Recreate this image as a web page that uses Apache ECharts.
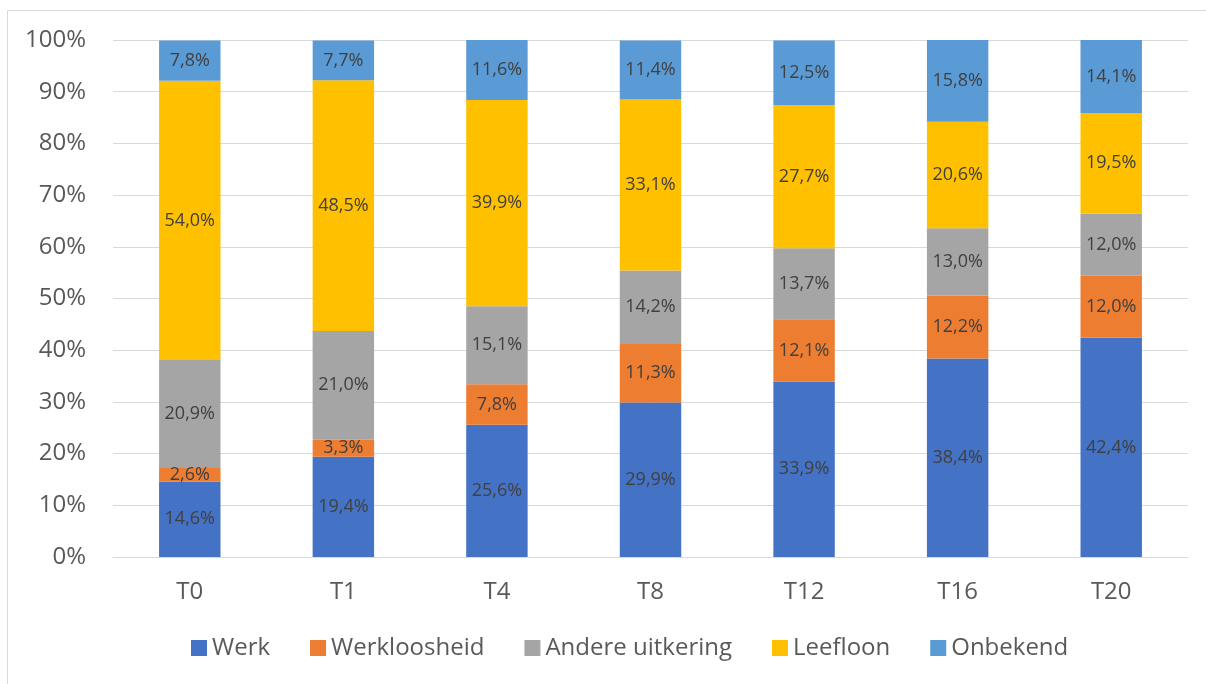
<!DOCTYPE html>
<html>
<head>
<meta charset="utf-8">
<script src="https://cdn.jsdelivr.net/npm/echarts@6/dist/echarts.min.js"></script>
<style>
  html, body { margin: 0; padding: 0; background: #fff; }
  #main { width: 1206px; height: 684px; }
</style>
</head>
<body>
<div id="main"></div>
<script>
const categories = ["T0", "T1", "T4", "T8", "T12", "T16", "T20"];
const werk = [14.6, 19.4, 25.6, 29.9, 33.9, 38.4, 42.4];
const werkloosheid = [2.6, 3.3, 7.8, 11.3, 12.1, 12.2, 12.0];
const andere = [20.9, 21.0, 15.1, 14.2, 13.7, 13.0, 12.0];
const leefloon = [54.0, 48.5, 39.9, 33.1, 27.7, 20.6, 19.5];
const onbekend = [7.8, 7.7, 11.6, 11.4, 12.5, 15.8, 14.1];
const yTicks = [0, 10, 20, 30, 40, 50, 60, 70, 80, 90, 100];

const font = "'Open Sans', 'Noto Sans', sans-serif";
const fmt = v => v.toFixed(1).replace(".", ",") + "%";

function mkSeries(name, data, color) {
  return {
    name: name,
    type: "bar",
    stack: "total",
    data: data,
    barWidth: "40%",
    itemStyle: { color: color },
    label: {
      show: true,
      position: "inside",
      formatter: p => fmt(p.value),
      color: "#404040",
      fontSize: 18,
      fontFamily: font
    }
  };
}

const myChart = echarts.init(document.getElementById("main"));
myChart.setOption({
  animation: false,
  graphic: [{
    type: "rect",
    shape: { x: 7.5, y: 10.5, width: 1210, height: 690 },
    style: { fill: "none", stroke: "#d9d9d9", lineWidth: 1 },
    silent: true
  }],
  grid: { left: 113, right: 18, top: 40, bottom: 127 },
  legend: {
    top: 631,
    left: 186,
    itemWidth: 16,
    itemHeight: 16,
    itemGap: 40,
    icon: "rect",
    textStyle: { color: "#595959", fontSize: 24, fontFamily: font }
  },
  xAxis: {
    type: "category",
    data: categories,
    axisLine: { lineStyle: { color: "#d9d9d9", width: 1 } },
    axisTick: { show: false },
    axisLabel: { color: "#595959", fontSize: 24, fontFamily: font, margin: 23 }
  },
  yAxis: {
    type: "value",
    min: 0,
    max: 100,
    interval: 10,
    axisLine: { show: false },
    axisTick: { show: false },
    splitLine: { lineStyle: { color: "#d9d9d9", width: 1 } },
    axisLabel: {
      color: "#595959",
      fontSize: 24,
      fontFamily: font,
      margin: 27,
      formatter: v => (yTicks.indexOf(v) >= 0 ? v + "%" : "")
    }
  },
  series: [
    mkSeries("Werk", werk, "#4472c4"),
    mkSeries("Werkloosheid", werkloosheid, "#ed7d31"),
    mkSeries("Andere uitkering", andere, "#a5a5a5"),
    mkSeries("Leefloon", leefloon, "#ffc000"),
    mkSeries("Onbekend", onbekend, "#5b9bd5")
  ]
});
</script>
</body>
</html>
